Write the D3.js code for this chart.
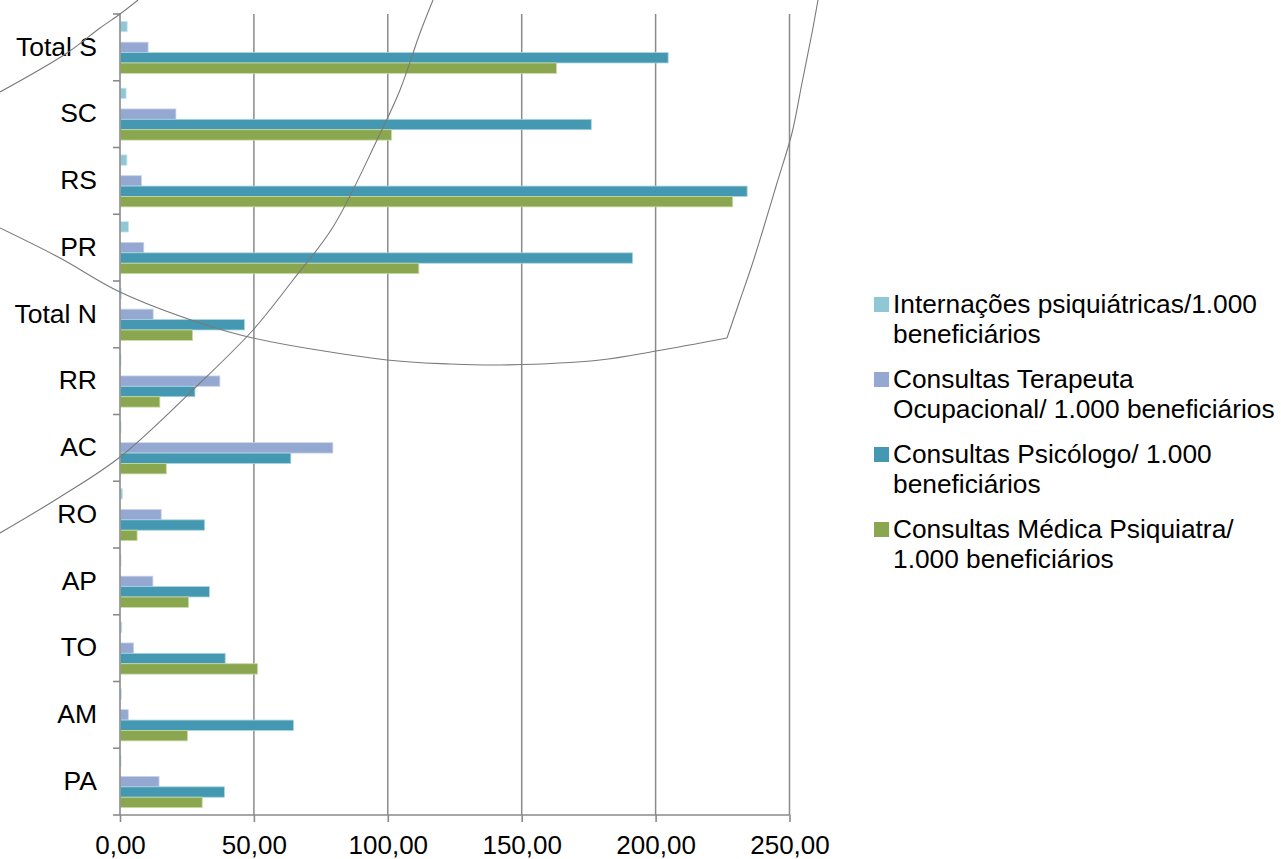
<!DOCTYPE html>
<html>
<head>
<meta charset="utf-8">
<script src="https://cdn.jsdelivr.net/npm/d3@7"></script>
<style>
  html, body { margin: 0; padding: 0; background: #fff; }
  svg { display: block; font-family: "Liberation Sans", Arial, sans-serif; }
</style>
</head>
<body>
<svg id="chart" width="1281" height="859"></svg>
<script>
// ---- data ----
const categories = ["Total S", "SC", "RS", "PR", "Total N", "RR", "AC", "RO", "AP", "TO", "AM", "PA"];
const internacoes = [2.5, 2.1, 2.4, 3.0, 0.3, 0.2, 0.2, 0.7, 0.2, 0.5, 0.4, 0.2];
const terapeuta   = [10.3, 20.7, 7.8, 8.7, 12.2, 37.1, 79.3, 15.2, 12.1, 4.9, 2.9, 14.4];
const psicologo   = [204.5, 175.8, 234.0, 191.2, 46.3, 27.8, 63.6, 31.4, 33.2, 39.1, 64.6, 38.8];
const medica      = [162.8, 101.2, 228.6, 111.4, 26.9, 14.7, 17.1, 6.2, 25.4, 51.2, 25.0, 30.5];
const seriesNames = [
  "Internações psiquiátricas/1.000 beneficiários",
  "Consultas Terapeuta Ocupacional/ 1.000 beneficiários",
  "Consultas Psicólogo/ 1.000 beneficiários",
  "Consultas Médica Psiquiatra/ 1.000 beneficiários"
];
const legendLines = [
  ["Internações psiquiátricas/1.000", "beneficiários"],
  ["Consultas Terapeuta", "Ocupacional/ 1.000 beneficiários"],
  ["Consultas Psicólogo/ 1.000", "beneficiários"],
  ["Consultas Médica Psiquiatra/", "1.000 beneficiários"]
];
const xTicks = [0, 50, 100, 150, 200, 250];
// slot order within each group, top to bottom (one empty slot as in the original)
const slotKeys = ["int", "empty", "ter", "psi", "med"];
const seriesKeys = ["int", "ter", "psi", "med"];
const seriesValues = { int: internacoes, ter: terapeuta, psi: psicologo, med: medica };
const colors = { int: "#8fc7d7", ter: "#94a8d1", psi: "#4498b1", med: "#8aa64f" };
const strokes = { int: "#c9e6ee", ter: "#c9d4ea", psi: "#a9d4e0", med: "#c8dba6" };

// decorative curves overlaid on the original picture (not data)
const decoCurves = [
  [[0,92],[67,53],[100,28],[120,14],[138,0]],
  [[433,0],[420,33],[400,90],[377,140],[333,227],[293,280],[253,330],[200,383],[120,457],[60,497],[0,533]],
  [[0,228],[60,258],[120,292],[200,323],[253,338],[387,360],[450,364],[500,365],[600,360],[656,351],[727,338]],
  [[727,338],[740,300],[752,265],[762,233],[777,183],[792,133],[802,83],[812,33],[818,0]]
];

// ---- layout ----
const svg = d3.select("#chart");
const plot = { left: 120, right: 789.5, top: 14, bottom: 815 };
const FS_AXIS = 26;
const FS_CAT = 26.5;
const FS_LEG = 26.3;

const x = d3.scaleLinear().domain([0, 250]).range([plot.left, plot.right]);
const y = d3.scaleBand().domain(categories).range([plot.top, plot.bottom])
  .paddingInner(0.221).paddingOuter(0.1105);
const yInner = d3.scaleBand().domain(slotKeys).range([0, y.bandwidth()]);
const step = y.step();
const gridColor = "#8a8a8a";

// gridlines
svg.append("g").selectAll("line").data(xTicks.filter(d => d > 0)).join("line")
  .attr("x1", d => x(d)).attr("x2", d => x(d))
  .attr("y1", plot.top).attr("y2", plot.bottom)
  .attr("stroke", gridColor).attr("stroke-width", 1.5);

// bars
const groups = svg.append("g").selectAll("g").data(categories).join("g")
  .attr("transform", d => `translate(0,${y(d)})`);
groups.selectAll("rect")
  .data((c, i) => seriesKeys.map(k => ({ key: k, value: seriesValues[k][i] })))
  .join("rect")
  .attr("x", x(0) + 0.5)
  .attr("y", d => yInner(d.key))
  .attr("width", d => Math.max(0, x(d.value) - x(0)))
  .attr("height", yInner.bandwidth())
  .attr("fill", d => colors[d.key])
  .attr("stroke", d => strokes[d.key])
  .attr("stroke-width", 0.8);

// bottom axis
const xAxis = d3.axisBottom(x).tickValues(xTicks).tickSize(7)
  .tickFormat(d => d3.format(".2f")(d).replace(".", ","));
const gx = svg.append("g").attr("transform", `translate(0,${plot.bottom})`).call(xAxis);
gx.select(".domain").attr("d", `M${plot.left},0H${plot.right}`)
  .attr("stroke", gridColor).attr("stroke-width", 1.6);
gx.selectAll(".tick line").attr("stroke", gridColor).attr("stroke-width", 1.6);
gx.selectAll("text").attr("font-size", FS_AXIS).attr("fill", "#000")
  .attr("font-family", "Liberation Sans, Arial, sans-serif")
  .attr("y", 39).attr("dy", 0);

// left axis (category boundaries)
svg.append("line").attr("x1", plot.left).attr("x2", plot.left)
  .attr("y1", plot.top).attr("y2", plot.bottom)
  .attr("stroke", gridColor).attr("stroke-width", 1.6);
svg.append("g").selectAll("line").data(d3.range(categories.length + 1)).join("line")
  .attr("x1", plot.left - 7).attr("x2", plot.left)
  .attr("y1", i => plot.top + i * step).attr("y2", i => plot.top + i * step)
  .attr("stroke", gridColor).attr("stroke-width", 1.6);
svg.append("g").selectAll("text").data(categories).join("text")
  .attr("x", 97).attr("y", d => y(d) + y.bandwidth() / 2 - 1)
  .attr("dy", "0.35em").attr("text-anchor", "end")
  .attr("font-size", FS_CAT).attr("fill", "#000").text(d => d);

// decorative curves
const curveLine = d3.line().curve(d3.curveCatmullRom.alpha(0.5));
svg.append("g").selectAll("path").data(decoCurves).join("path")
  .attr("d", curveLine).attr("fill", "none")
  .attr("stroke", "#7a7a7a").attr("stroke-width", 1.1);

// legend
const legend = svg.append("g").attr("transform", "translate(874,297)");
const li = legend.selectAll("g").data(seriesKeys).join("g")
  .attr("transform", (d, i) => `translate(0,${i * 75})`);
li.append("rect").attr("width", 15).attr("height", 15).attr("fill", d => colors[d]);
li.each(function(d, i) {
  const t = d3.select(this).append("text").attr("x", 19).attr("y", 16)
    .attr("font-size", FS_LEG).attr("fill", "#000");
  legendLines[i].forEach((ln, j) => {
    t.append("tspan").attr("x", 19).attr("y", 16 + j * 30).text(ln);
  });
});
</script>
</body>
</html>
